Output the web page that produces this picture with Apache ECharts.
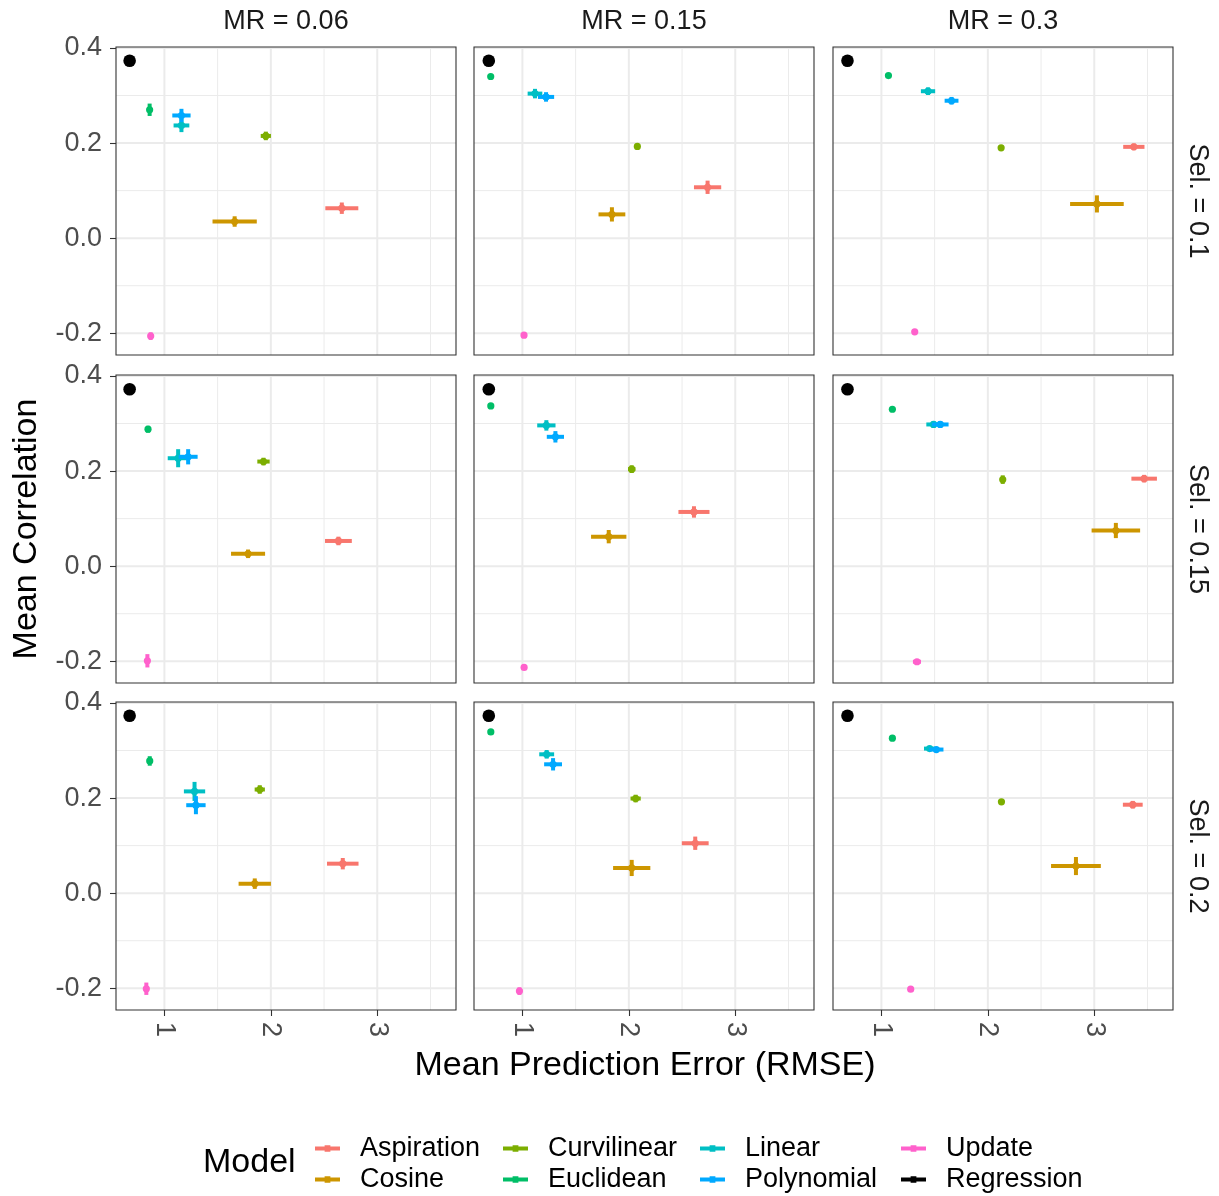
<!DOCTYPE html>
<html>
<head>
<meta charset="utf-8">
<script src="https://cdn.jsdelivr.net/npm/echarts@6/dist/echarts.min.js"></script>
<style>
html,body{margin:0;padding:0;background:#fff;}
#chart{width:1219px;height:1196px;}
</style>
</head>
<body>
<div id="chart"></div>
<script>
// ---- categories / labels ----
const models = ['Aspiration','Cosine','Curvilinear','Euclidean','Linear','Polynomial','Update','Regression'];
const modelColors = ['#F8766D','#CD9600','#7CAE00','#00BE67','#00BFC4','#00A9FF','#FF61CC','#000000'];
const mrLabels = ['MR = 0.06','MR = 0.15','MR = 0.3'];
const selLabels = ['Sel. = 0.1','Sel. = 0.15','Sel. = 0.2'];
const xTicks = [1, 2, 3];
const xMinorTicks = [1.5, 2.5, 3.5];
const yTicks = [-0.2, 0, 0.2, 0.4];
const yMinorTicks = [-0.1, 0.1, 0.3];

// ---- values: 9 panels, row-major (Sel. 0.1, 0.15, 0.2) x (MR 0.06, 0.15, 0.3) ----
// mean RMSE, mean correlation, half-width of RMSE bar, half-width of correlation bar
const aspirationX  = [2.667, 2.740, 3.372, 2.635, 2.612, 3.469, 2.676, 2.624, 3.362];
const aspirationY  = [0.063, 0.107, 0.192, 0.053, 0.114, 0.184, 0.062, 0.105, 0.186];
const aspirationXe = [0.155, 0.128, 0.100, 0.126, 0.146, 0.120, 0.148, 0.126, 0.093];
const aspirationYe = [0.012, 0.014, 0.007, 0.009, 0.012, 0.008, 0.012, 0.014, 0.008];

const cosineX  = [1.660, 1.841, 3.025, 1.786, 1.811, 3.203, 1.849, 2.027, 2.828];
const cosineY  = [0.035, 0.050, 0.072, 0.026, 0.062, 0.075, 0.020, 0.053, 0.057];
const cosineXe = [0.208, 0.126, 0.252, 0.160, 0.166, 0.228, 0.152, 0.175, 0.234];
const cosineYe = [0.011, 0.015, 0.018, 0.009, 0.014, 0.016, 0.011, 0.017, 0.019];

const curvilinearX  = [1.953, 2.080, 2.125, 1.931, 2.027, 2.140, 1.896, 2.064, 2.128];
const curvilinearY  = [0.215, 0.193, 0.190, 0.220, 0.204, 0.182, 0.218, 0.199, 0.192];
const curvilinearXe = [0.048, 0.020, 0.020, 0.058, 0.035, 0.020, 0.048, 0.048, 0.020];
const curvilinearYe = [0.009, 0.004, 0.005, 0.008, 0.008, 0.009, 0.009, 0.008, 0.005];

const euclideanX  = [0.861, 0.702, 1.066, 0.846, 0.703, 1.103, 0.862, 0.703, 1.103];
const euclideanY  = [0.270, 0.340, 0.342, 0.288, 0.337, 0.330, 0.278, 0.339, 0.326];
const euclideanXe = [0.018, 0.010, 0.010, 0.018, 0.010, 0.020, 0.018, 0.010, 0.020];
const euclideanYe = [0.013, 0.003, 0.003, 0.007, 0.003, 0.005, 0.010, 0.003, 0.006];

const linearX  = [1.160, 1.118, 1.438, 1.129, 1.225, 1.490, 1.283, 1.228, 1.453];
const linearY  = [0.237, 0.304, 0.309, 0.227, 0.296, 0.298, 0.214, 0.292, 0.304];
const linearXe = [0.074, 0.069, 0.067, 0.098, 0.086, 0.068, 0.100, 0.070, 0.053];
const linearYe = [0.014, 0.010, 0.008, 0.019, 0.011, 0.007, 0.020, 0.009, 0.004];

const polynomialX  = [1.160, 1.222, 1.659, 1.223, 1.310, 1.553, 1.296, 1.288, 1.516];
const polynomialY  = [0.258, 0.297, 0.289, 0.230, 0.272, 0.298, 0.185, 0.271, 0.302];
const polynomialXe = [0.086, 0.076, 0.065, 0.089, 0.081, 0.078, 0.091, 0.084, 0.067];
const polynomialYe = [0.014, 0.010, 0.008, 0.016, 0.012, 0.007, 0.019, 0.013, 0.005];

const updateX  = [0.871, 1.015, 1.313, 0.840, 1.016, 1.334, 0.830, 0.972, 1.275];
const updateY  = [-0.206, -0.204, -0.197, -0.199, -0.213, -0.201, -0.201, -0.206, -0.202];
const updateXe = [0.014, 0.010, 0.018, 0.014, 0.010, 0.038, 0.014, 0.012, 0.010];
const updateYe = [0.008, 0.003, 0.003, 0.014, 0.003, 0.003, 0.013, 0.008, 0.003];

const regressionX  = [0.673, 0.684, 0.681, 0.673, 0.684, 0.681, 0.673, 0.684, 0.681];
const regressionY  = [0.373, 0.373, 0.373, 0.372, 0.372, 0.372, 0.373, 0.373, 0.373];
const regressionXe = [0, 0, 0, 0, 0, 0, 0, 0, 0];
const regressionYe = [0, 0, 0, 0, 0, 0, 0, 0, 0];

const modelValues = {
  Aspiration: [aspirationX, aspirationY, aspirationXe, aspirationYe],
  Cosine: [cosineX, cosineY, cosineXe, cosineYe],
  Curvilinear: [curvilinearX, curvilinearY, curvilinearXe, curvilinearYe],
  Euclidean: [euclideanX, euclideanY, euclideanXe, euclideanYe],
  Linear: [linearX, linearY, linearXe, linearYe],
  Polynomial: [polynomialX, polynomialY, polynomialXe, polynomialYe],
  Update: [updateX, updateY, updateXe, updateYe],
  Regression: [regressionX, regressionY, regressionXe, regressionYe]
};

// ---- layout ----
const FONT = '"Liberation Sans", Arial, sans-serif';
const colLeft = [116, 474, 833];
const rowTop = [47, 375, 702];
const panelW = 340, panelH = 308;
const X_MIN = 0.545, X_MAX = 3.74;
const Y_MIN = -0.2457, Y_MAX = 0.402;

const grids = [], xAxes = [], yAxes = [], series = [];

// decoration items: [kind, value]  kind 0 major-x,1 minor-x,2 major-y,3 minor-y,4 frame
const decorData = [];
xMinorTicks.forEach(v => decorData.push([1, v]));
yMinorTicks.forEach(v => decorData.push([3, v]));
xTicks.forEach(v => decorData.push([0, v]));
yTicks.forEach(v => decorData.push([2, v]));

for (let r = 0; r < 3; r++) {
  for (let c = 0; c < 3; c++) {
    const p = r * 3 + c;
    grids.push({left: colLeft[c], top: rowTop[r], width: panelW, height: panelH, show: false});
    const bottomRow = r === 2, leftCol = c === 0;
    xAxes.push({
      type: 'value', gridIndex: p, min: X_MIN, max: X_MAX, position: 'bottom',
      splitLine: {show: false}, axisLine: {show: false, onZero: false},
      axisTick: {show: bottomRow, customValues: xTicks, length: 6, lineStyle: {color: '#333333', width: 1.1}},
      axisLabel: {show: bottomRow, customValues: xTicks, rotate: -90, margin: 12,
        fontSize: 27, color: '#4D4D4D', fontFamily: FONT, formatter: v => String(v)}
    });
    yAxes.push({
      type: 'value', gridIndex: p, min: Y_MIN, max: Y_MAX, position: 'left',
      splitLine: {show: false}, axisLine: {show: false, onZero: false},
      axisTick: {show: leftCol, customValues: yTicks, length: 6, lineStyle: {color: '#333333', width: 1.1}},
      axisLabel: {show: leftCol, customValues: yTicks, margin: 14,
        fontSize: 27, color: '#4D4D4D', fontFamily: FONT, formatter: v => v.toFixed(1)}
    });
    // gridlines and frame, drawn through the panel's scales
    series.push({
      type: 'custom', name: '__decor', xAxisIndex: p, yAxisIndex: p, z: 1, silent: true,
      data: decorData.concat([[4, 0]]),
      renderItem: function (params, api) {
        const cs = params.coordSys;
        const k = api.value(0), v = api.value(1);
        if (k === 0 || k === 1) {
          const px = api.coord([v, 0])[0];
          return {type: 'line', shape: {x1: px, y1: cs.y, x2: px, y2: cs.y + cs.height},
            style: {stroke: '#EBEBEB', lineWidth: k === 0 ? 2 : 1}};
        }
        if (k === 2 || k === 3) {
          const py = api.coord([1, v])[1];
          return {type: 'line', shape: {x1: cs.x, y1: py, x2: cs.x + cs.width, y2: py},
            style: {stroke: '#EBEBEB', lineWidth: k === 2 ? 2 : 1}};
        }
        return {type: 'rect', z2: 100, shape: {x: cs.x, y: cs.y, width: cs.width, height: cs.height},
          style: {fill: null, stroke: '#333333', lineWidth: 1.1}};
      }
    });
    models.forEach((m, mi) => {
      const vals = modelValues[m];
      const color = modelColors[mi];
      const rad = m === 'Regression' ? 6.3 : 3.6;
      series.push({
        type: 'custom', name: m, xAxisIndex: p, yAxisIndex: p, z: 2 + mi * 0.01,
        itemStyle: {color: color},
        encode: {x: 0, y: 1},
        data: [[vals[0][p], vals[1][p], vals[2][p], vals[3][p]]],
        renderItem: function (params, api) {
          const x = api.value(0), y = api.value(1), xe = api.value(2), ye = api.value(3);
          const c0 = api.coord([x, y]);
          const l = api.coord([x - xe, y]), rr = api.coord([x + xe, y]);
          const t = api.coord([x, y + ye]), b = api.coord([x, y - ye]);
          const kids = [];
          if (ye > 0) kids.push({type: 'line', shape: {x1: t[0], y1: t[1], x2: b[0], y2: b[1]},
            style: {stroke: color, lineWidth: 4, lineCap: 'butt'}});
          if (xe > 0) kids.push({type: 'line', shape: {x1: l[0], y1: l[1], x2: rr[0], y2: rr[1]},
            style: {stroke: color, lineWidth: 4, lineCap: 'butt'}});
          kids.push({type: 'circle', shape: {cx: c0[0], cy: c0[1], r: rad}, style: {fill: color}});
          return {type: 'group', children: kids};
        }
      });
    });
  }
}

// ---- text: strips and axis titles ----
const graphics = [];
mrLabels.forEach((t, c) => graphics.push({
  type: 'text', silent: true, position: [colLeft[c] + panelW / 2, 22],
  style: {text: t, fontSize: 27, fill: '#1A1A1A', fontFamily: FONT, align: 'center', verticalAlign: 'middle'}
}));
selLabels.forEach((t, r) => graphics.push({
  type: 'text', silent: true, rotation: -Math.PI / 2,
  position: [1197, rowTop[r] + panelH / 2],
  style: {text: t, fontSize: 27, fill: '#1A1A1A', fontFamily: FONT, align: 'center', verticalAlign: 'middle'}
}));
graphics.push({
  type: 'text', silent: true, rotation: Math.PI / 2, position: [27, 529],
  style: {text: 'Mean Correlation', fontSize: 34, fill: '#000000', fontFamily: FONT, align: 'center', verticalAlign: 'middle'}
});
graphics.push({
  type: 'text', silent: true, position: [645, 1066],
  style: {text: 'Mean Prediction Error (RMSE)', fontSize: 34, fill: '#000000', fontFamily: FONT, align: 'center', verticalAlign: 'middle'}
});
graphics.push({
  type: 'text', silent: true, position: [203, 1163],
  style: {text: 'Model', fontSize: 34, fill: '#000000', fontFamily: FONT, align: 'left', verticalAlign: 'middle'}
});

// ---- legends (one column of two keys each) ----
const legendCols = [['Aspiration', 'Cosine'], ['Curvilinear', 'Euclidean'], ['Linear', 'Polynomial'], ['Update', 'Regression']];
const legendLeft = [315, 503, 700, 901];
const keyIcon = 'path://M0,2.5H10V1H16V2.5H26V6.5H16V8H10V6.5H0Z';
const legends = legendCols.map((d, i) => ({
  data: d, orient: 'vertical', left: legendLeft[i], top: 1135, bottom: 0, itemGap: 4,
  padding: 0, itemWidth: 25, itemHeight: 7, icon: keyIcon, selectedMode: false,
  textStyle: {fontSize: 27, lineHeight: 26, color: '#000000', fontFamily: FONT, padding: [0, 0, 0, 15]}
}));

const chart = echarts.init(document.getElementById('chart'), null, {renderer: 'canvas'});
chart.setOption({
  animation: false,
  backgroundColor: '#FFFFFF',
  grid: grids,
  xAxis: xAxes,
  yAxis: yAxes,
  legend: legends,
  graphic: graphics,
  series: series
});
</script>
</body>
</html>
